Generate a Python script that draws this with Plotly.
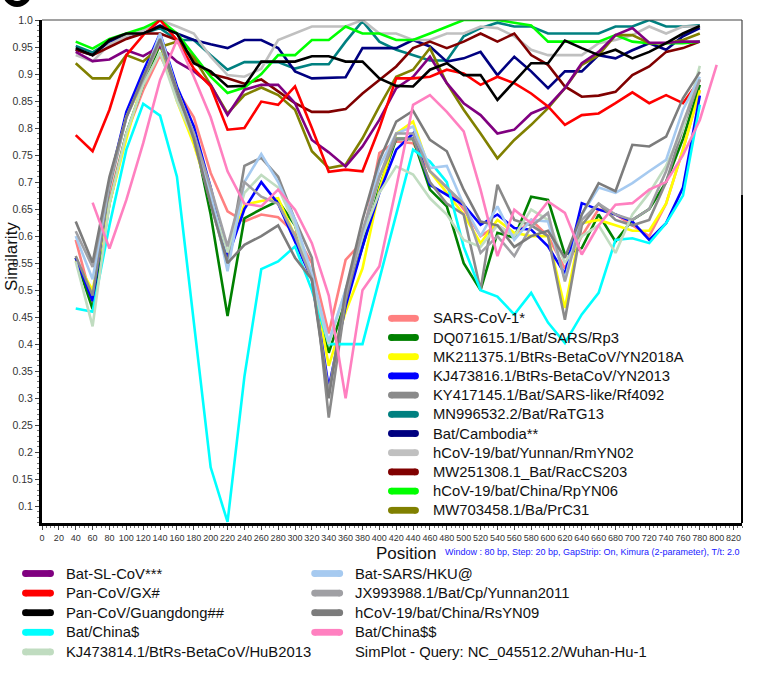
import plotly.graph_objects as go

# ---------------- data ----------------
positions = [40, 60, 80, 100, 120, 140, 160, 180, 200, 220, 240, 260, 280, 300, 320, 340, 360, 380, 400,
             420, 440, 460, 480, 500, 520, 540, 560, 580, 600, 620, 640, 660, 680, 700, 720, 740, 760, 780, 800]

sars_cov_1 = [0.593, 0.476, 0.67, 0.79, 0.87, 0.935, 0.87, 0.82, 0.717, 0.646, 0.627, 0.64, 0.635, 0.605, 0.55, 0.42, 0.556, 0.59, 0.754,
              0.775, 0.772, 0.72, 0.69, 0.65, 0.60, 0.62, 0.60, 0.63, 0.60, 0.54, 0.60, 0.65, 0.64, 0.62, 0.60, 0.66, 0.76, 0.87, None]
rp3 = [0.56, 0.465, 0.66, 0.79, 0.88, 0.955, 0.86, 0.79, 0.64, 0.452, 0.633, 0.65, 0.665, 0.62, 0.52, 0.384, 0.48, 0.58, 0.69,
       0.78, 0.78, 0.686, 0.655, 0.55, 0.50, 0.606, 0.597, 0.673, 0.667, 0.566, 0.578, 0.64, 0.59, 0.63, 0.65, 0.70, 0.78, 0.88, None]
yn2018a = [0.555, 0.50, 0.66, 0.78, 0.89, 0.96, 0.85, 0.77, 0.67, 0.566, 0.658, 0.665, 0.67, 0.60, 0.53, 0.36, 0.46, 0.54, 0.686,
           0.79, 0.812, 0.72, 0.68, 0.64, 0.587, 0.63, 0.606, 0.60, 0.60, 0.467, 0.624, 0.63, 0.62, 0.61, 0.61, 0.66, 0.76, 0.87, None]
yn2013 = [0.56, 0.48, 0.70, 0.83, 0.905, 0.975, 0.877, 0.803, 0.69, 0.56, 0.65, 0.70, 0.66, 0.59, 0.52, 0.32, 0.47, 0.58, 0.68,
          0.76, 0.79, 0.695, 0.677, 0.658, 0.621, 0.64, 0.615, 0.612, 0.581, 0.53, 0.661, 0.649, 0.64, 0.627, 0.593, 0.624, 0.69, 0.86, None]
rf4092 = [0.563, 0.49, 0.69, 0.82, 0.89, 0.96, 0.86, 0.78, 0.66, 0.55, 0.73, 0.745, 0.71, 0.63, 0.56, 0.264, 0.48, 0.60, 0.71,
          0.78, 0.78, 0.70, 0.66, 0.64, 0.50, 0.695, 0.63, 0.62, 0.60, 0.445, 0.62, 0.66, 0.63, 0.62, 0.63, 0.70, 0.80, 0.89, None]
ratg13 = [0.952, 0.94, 0.96, 0.97, 0.975, 0.985, 0.963, 0.963, 0.935, 0.908, 0.922, 0.922, 0.922, 0.91, 0.918, 0.918, 0.96, 0.998, 0.96,
          0.945, 0.935, 0.925, 0.925, 0.97, 0.985, 0.995, 0.988, 0.988, 0.975, 0.975, 0.975, 0.975, 0.988, 0.988, 1.0, 0.988, 0.988, 0.99, None]
cambodia = [0.945, 0.935, 0.96, 0.97, 0.975, 0.99, 0.975, 0.963, 0.955, 0.948, 0.963, 0.963, 0.948, 0.905, 0.892, 0.893, 0.894, 0.948, 0.948,
            0.948, 0.963, 0.951, 0.923, 0.929, 0.941, 0.898, 0.932, 0.905, 0.874, 0.905, 0.905, 0.935, 0.929, 0.944, 0.957, 0.945, 0.97, 0.985, None]
rmyn02 = [0.935, 0.923, 0.955, 0.97, 0.98, 1.0, 0.988, 0.975, 0.932, 0.898, 0.895, 0.91, 0.963, 0.975, 0.988, 0.988, 0.988, 1.0, 0.975,
          0.975, 0.963, 0.963, 0.975, 0.975, 0.988, 0.985, 0.97, 0.945, 0.935, 0.935, 0.935, 0.957, 0.963, 0.972, 0.988, 0.975, 0.988, 0.988, None]
raccs203 = [0.945, 0.935, 0.95, 0.965, 0.975, 0.975, 0.963, 0.925, 0.90, 0.892, 0.882, 0.89, 0.868, 0.846, 0.83, 0.83, 0.835, 0.864, 0.889,
            0.914, 0.948, 0.96, 0.948, 0.96, 0.975, 0.96, 0.975, 0.935, 0.917, 0.877, 0.858, 0.86, 0.867, 0.898, 0.914, 0.941, 0.948, 0.96, None]
rpyn06 = [0.96, 0.947, 0.965, 0.975, 0.985, 1.0, 0.975, 0.935, 0.895, 0.865, 0.875, 0.90, 0.935, 0.935, 0.963, 0.963, 0.988, 0.975, 0.975,
          0.963, 0.963, 0.975, 0.988, 1.0, 1.0, 1.0, 0.995, 0.99, 0.96, 0.96, 0.96, 0.96, 0.972, 0.96, 0.957, 0.957, 0.957, 0.96, None]
prc31 = [0.92, 0.892, 0.892, 0.935, 0.923, 0.95, 0.96, 0.93, 0.88, 0.827, 0.861, 0.875, 0.861, 0.834, 0.757, 0.726, 0.732, 0.781, 0.84,
         0.895, 0.908, 0.948, 0.883, 0.834, 0.79, 0.744, 0.778, 0.806, 0.837, 0.874, 0.917, 0.935, 0.972, 0.972, 0.957, 0.957, 0.963, 0.975, None]
bat_sl_cov = [0.941, 0.924, 0.927, 0.944, 0.933, 0.951, 0.923, 0.905, 0.88, 0.824, 0.871, 0.88, 0.88, 0.846, 0.778, 0.755, 0.729, 0.766, 0.815,
              0.874, 0.895, 0.932, 0.883, 0.846, 0.824, 0.79, 0.797, 0.827, 0.84, 0.874, 0.92, 0.941, 0.972, 0.985, 0.958, 0.958, 0.96, 0.96, None]
pan_gx = [0.787, 0.757, 0.834, 0.935, 0.972, 1.0, 0.963, 0.91, 0.877, 0.797, 0.80, 0.849, 0.843, 0.877, 0.80, 0.719, 0.723, 0.72, 0.80,
          0.892, 0.892, 0.895, 0.908, 0.901, 0.88, 0.895, 0.883, 0.864, 0.84, 0.806, 0.824, 0.827, 0.846, 0.866, 0.846, 0.861, 0.846, 0.889, None]
pan_gd = [0.948, 0.935, 0.963, 0.975, 0.975, 0.988, 0.975, 0.92, 0.905, 0.877, 0.878, 0.923, 0.923, 0.923, 0.933, 0.933, 0.923, 0.923, 0.892,
          0.878, 0.877, 0.908, 0.92, 0.898, 0.898, 0.852, 0.886, 0.92, 0.92, 0.962, 0.948, 0.935, 0.945, 0.929, 0.941, 0.957, 0.975, 0.989, None]
bat_china = [0.466, 0.46, 0.62, 0.76, 0.845, 0.823, 0.71, 0.44, 0.172, 0.071, 0.34, 0.539, 0.553, 0.581, 0.50, 0.40, 0.40, 0.40, 0.52,
             0.64, 0.76, 0.738, 0.70, 0.58, 0.50, 0.488, 0.455, 0.495, 0.44, 0.402, 0.455, 0.495, 0.593, 0.596, 0.587, 0.624, 0.675, 0.843, None]
hub2013 = [0.553, 0.433, 0.66, 0.79, 0.88, 0.94, 0.85, 0.78, 0.67, 0.57, 0.68, 0.713, 0.69, 0.62, 0.52, 0.40, 0.50, 0.60, 0.68,
           0.729, 0.714, 0.67, 0.64, 0.593, 0.58, 0.62, 0.60, 0.649, 0.63, 0.55, 0.60, 0.62, 0.569, 0.64, 0.68, 0.73, 0.80, 0.915, None]
hku = [0.60, 0.52, 0.70, 0.82, 0.89, 0.975, 0.87, 0.79, 0.68, 0.535, 0.70, 0.752, 0.70, 0.63, 0.53, 0.405, 0.50, 0.60, 0.729,
       0.79, 0.803, 0.726, 0.73, 0.658, 0.60, 0.655, 0.593, 0.63, 0.627, 0.52, 0.64, 0.69, 0.68, 0.698, 0.72, 0.741, 0.834, 0.895, None]
yunnan2011 = [0.609, 0.543, 0.70, 0.82, 0.89, 0.96, 0.87, 0.79, 0.69, 0.581, 0.70, 0.673, 0.66, 0.60, 0.52, 0.31, 0.49, 0.61, 0.71,
              0.79, 0.79, 0.72, 0.69, 0.66, 0.569, 0.60, 0.563, 0.618, 0.643, 0.516, 0.63, 0.66, 0.64, 0.63, 0.65, 0.72, 0.81, 0.89, None]
rsyn09 = [0.627, 0.551, 0.71, 0.82, 0.895, 0.965, 0.87, 0.78, 0.66, 0.55, 0.584, 0.60, 0.62, 0.56, 0.52, 0.30, 0.50, 0.63, 0.74,
          0.812, 0.832, 0.778, 0.757, 0.686, 0.627, 0.62, 0.58, 0.60, 0.61, 0.56, 0.64, 0.698, 0.683, 0.769, 0.766, 0.784, 0.855, 0.904, None]
bat_china2 = [None, 0.662, 0.577, 0.667, 0.772, 0.889, 0.963, 0.895, 0.82, 0.72, 0.66, 0.655, 0.686, 0.649, 0.587, 0.49, 0.30, 0.50, 0.544,
              0.69, 0.843, 0.861, 0.83, 0.794, 0.686, 0.563, 0.649, 0.624, 0.664, 0.643, 0.566, 0.62, 0.658, 0.661, 0.686, 0.70, 0.75, 0.815, 0.917]

series_names = ["SARS-CoV-1*", "DQ071615.1/Bat/SARS/Rp3", "MK211375.1/BtRs-BetaCoV/YN2018A",
                "KJ473816.1/BtRs-BetaCoV/YN2013", "KY417145.1/Bat/SARS-like/Rf4092", "MN996532.2/Bat/RaTG13",
                "Bat/Cambodia**", "hCoV-19/bat/Yunnan/RmYN02", "MW251308.1_Bat/RacCS203",
                "hCoV-19/bat/China/RpYN06", "MW703458.1/Ba/PrC31",
                "Bat-SL-CoV***", "Pan-CoV/GX#", "Pan-CoV/Guangdong##", "Bat/China$",
                "KJ473814.1/BtRs-BetaCoV/HuB2013", "Bat-SARS/HKU@", "JX993988.1/Bat/Cp/Yunnan2011",
                "hCoV-19/bat/China/RsYN09", "Bat/China$$"]
series_values = [sars_cov_1, rp3, yn2018a, yn2013, rf4092, ratg13, cambodia, rmyn02, raccs203, rpyn06, prc31,
                 bat_sl_cov, pan_gx, pan_gd, bat_china, hub2013, hku, yunnan2011, rsyn09, bat_china2]
series_colors = ["#FF8080", "#008000", "#FFFF00", "#0000FF", "#8A8A8A", "#008080", "#000080", "#C0C0C0",
                 "#800000", "#00FF00", "#808000", "#800080", "#FF0000", "#000000", "#00FFFF", "#C0DCC0",
                 "#A6CAF0", "#A0A0A4", "#7C7C7C", "#FF80C0"]

query_label = "SimPlot - Query: NC_045512.2/Wuhan-Hu-1"
x_tick_values = list(range(0, 821, 20))
y_tick_values = [1.0, 0.95, 0.9, 0.85, 0.8, 0.75, 0.7, 0.65, 0.6, 0.55, 0.5, 0.45, 0.4, 0.35, 0.3, 0.25, 0.2, 0.15, 0.1]
y_tick_labels = ["1.0", "0.95", "0.9", "0.85", "0.8", "0.75", "0.7", "0.65", "0.6", "0.55", "0.5", "0.45",
                 "0.4", "0.35", "0.3", "0.25", "0.2", "0.15", "0.1"]

# ---------------- layout geometry (pixels) ----------------
W, H = 773, 675
ML, MR, MT, MB = 40, 31, 20, 152
PW, PH = W - ML - MR, H - MT - MB


def px(x):
    return (x - ML) / PW


def py(y):
    return (H - MB - y) / PH


fig = go.Figure()
for name, vals, col in zip(series_names, series_values, series_colors):
    fig.add_trace(go.Scatter(x=positions, y=vals, mode="lines", name=name,
                             line=dict(color=col, width=2.6), connectgaps=False,
                             showlegend=False))

FONT = "Arial, 'Liberation Sans', sans-serif"
shapes = []
annotations = []


def legend_entry(x_line, x_text, y, label, color):
    if color is not None:
        r = 3.4
        shapes.append(dict(type="line", xref="paper", yref="paper",
                           x0=px(x_line[0] + r), x1=px(x_line[1] - r), y0=py(y), y1=py(y),
                           line=dict(color=color, width=2 * r)))
        for cx in (x_line[0] + r, x_line[1] - r):
            shapes.append(dict(type="circle", xref="paper", yref="paper",
                               x0=px(cx - r), x1=px(cx + r), y0=py(y + r), y1=py(y - r),
                               fillcolor=color, line=dict(width=0)))
    annotations.append(dict(xref="paper", yref="paper", x=px(x_text), y=py(y), text=label,
                            showarrow=False, xanchor="left", yanchor="middle",
                            font=dict(family=FONT, size=14.8, color="#111111")))


color_of = dict(zip(series_names, series_colors))
inner = series_names[:11]
for i, nm in enumerate(inner):
    legend_entry((387, 418), 430, 318.3 + i * 19.2, nm, color_of[nm])
col1 = series_names[11:16]
for i, nm in enumerate(col1):
    legend_entry((20, 52), 62, 573.5 + i * 19.6, nm, color_of[nm])
col2 = series_names[16:20]
for i, nm in enumerate(col2):
    legend_entry((310, 342), 352, 573.5 + i * 19.6, nm, color_of[nm])
legend_entry(None, 352, 573.5 + 4 * 19.6, query_label, None)

# frame: thin top/right, thicker right part near legend
shapes.append(dict(type="line", xref="paper", yref="paper", x0=0, x1=1, y0=1, y1=1,
                   line=dict(color="#444444", width=1.2)))
shapes.append(dict(type="line", xref="paper", yref="paper", x0=1, x1=1, y0=0, y1=1,
                   line=dict(color="#444444", width=1.2)))
shapes.append(dict(type="line", xref="paper", yref="paper", x0=1, x1=1, y0=0, y1=py(195),
                   line=dict(color="#000000", width=2)))
# partially visible panel badge in the top-left corner
shapes.append(dict(type="circle", xref="paper", yref="paper", x0=px(3), x1=px(27), y0=py(-22), y1=py(4),
                   line=dict(color="#000000", width=6), fillcolor="rgba(0,0,0,0)"))

# axis titles and notes
annotations.append(dict(xref="paper", yref="paper", x=px(405), y=py(553), text="Position",
                        showarrow=False, xanchor="center", yanchor="middle",
                        font=dict(family=FONT, size=17, color="#111111")))
annotations.append(dict(xref="paper", yref="paper", x=px(442), y=py(552),
                        text="Window : 80 bp, Step: 20 bp, GapStrip: On, Kimura (2-parameter), T/t: 2.0",
                        showarrow=False, xanchor="left", yanchor="middle",
                        font=dict(family=FONT, size=9, color="#2020FF")))
annotations.append(dict(xref="paper", yref="paper", x=px(9), y=py(257), text="Similarity",
                        showarrow=False, xanchor="center", yanchor="middle", textangle=-90,
                        font=dict(family=FONT, size=17, color="#111111")))

fig.update_layout(
    width=W, height=H,
    margin=dict(l=ML, r=MR, t=MT, b=MB, pad=0),
    paper_bgcolor="white", plot_bgcolor="white",
    showlegend=False,
    shapes=shapes, annotations=annotations,
    xaxis=dict(range=[0, 830], tickmode="array", tickvals=x_tick_values,
               ticktext=[str(v) for v in x_tick_values], tickangle=0,
               ticks="outside", ticklen=4, tickwidth=1, tickcolor="#444444",
               tickfont=dict(family=FONT, size=9, color="#333333"),
               showline=True, linewidth=3, linecolor="#000000",
               showgrid=False, zeroline=False,
               minor=dict(ticks="outside", ticklen=2, tickwidth=1, tickcolor="#777777",
                          tickmode="linear", tick0=0, dtick=5, showgrid=False)),
    yaxis=dict(range=[0.069, 1.0], tickmode="array", tickvals=y_tick_values, ticktext=y_tick_labels,
               ticks="outside", ticklen=4, tickwidth=1, tickcolor="#444444",
               tickfont=dict(family=FONT, size=10.5, color="#333333"),
               showline=True, linewidth=3, linecolor="#000000",
               showgrid=False, zeroline=False,
               minor=dict(ticks="outside", ticklen=2, tickwidth=1, tickcolor="#777777",
                          tickmode="linear", tick0=0, dtick=0.01, showgrid=False)),
)

fig.write_html("out.html", config={"displayModeBar": False},
               post_script="document.body.style.margin='0';document.body.style.overflow='hidden';")
